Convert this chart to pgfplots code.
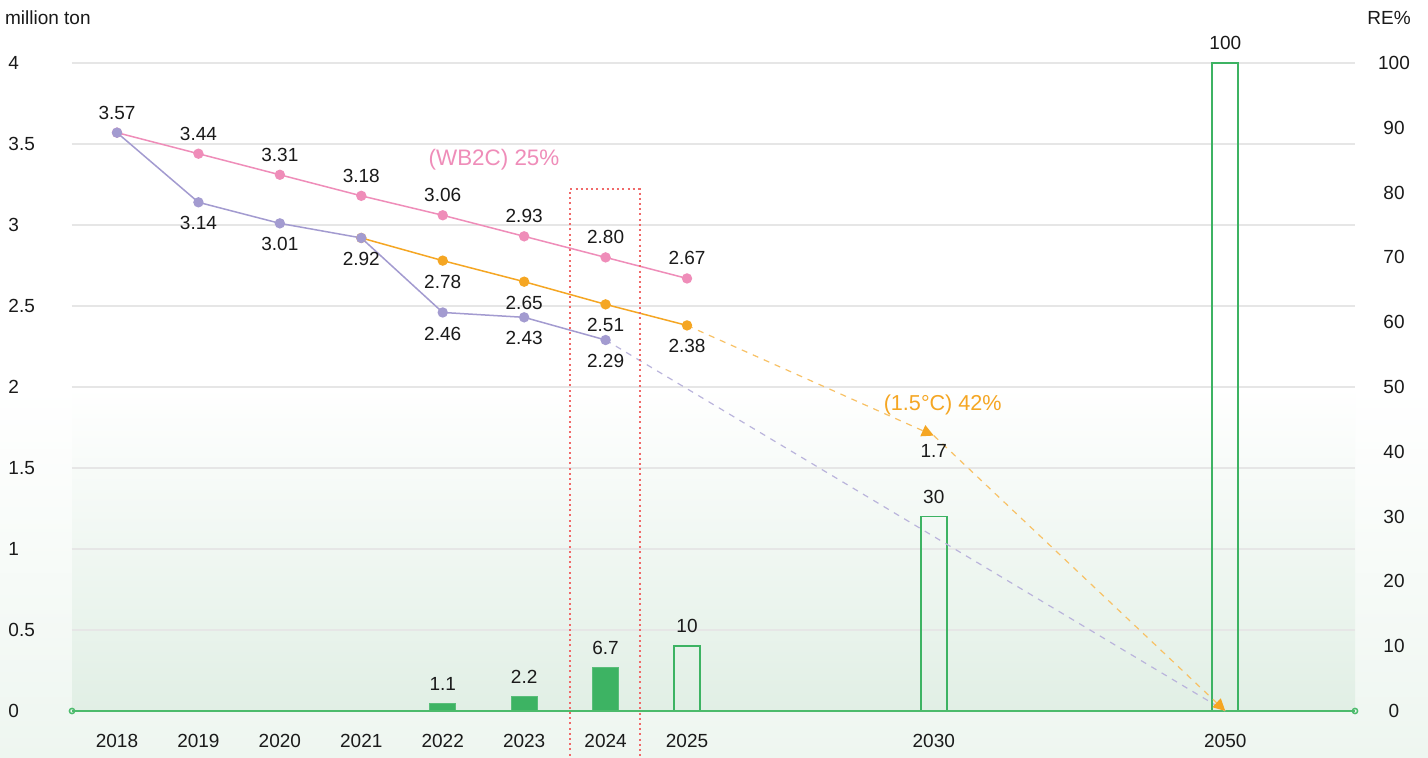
\documentclass[border=0pt]{standalone}
\usepackage{pgfplots}
\pgfplotsset{compat=1.18}
\usepackage{pgfplotstable}
\usepackage{fontspec}
\setmainfont{Liberation Sans}
\usetikzlibrary{arrows.meta}
\definecolor{cpink}{HTML}{EF8DB9}
\definecolor{cpurple}{HTML}{A39BD0}
\definecolor{corange}{HTML}{F5A623}
\definecolor{cgreen}{HTML}{3DB363}
\definecolor{cgreenline}{HTML}{4CBB6C}
\definecolor{cgrid}{HTML}{E6E6E6}
\definecolor{cred}{HTML}{F06A6A}
\definecolor{bgA}{HTML}{E1EFE5}
\definecolor{bgB}{HTML}{EEF6F0}
\definecolor{ctext}{HTML}{1A1A1A}

\pgfplotstableread{
x y lab
0 3.57 {}
1 3.44 3.44
2 3.31 3.31
3 3.18 3.18
4 3.06 3.06
5 2.93 2.93
6 2.80 2.80
7 2.67 2.67
}\pinktab
\pgfplotstableread{
x y lab
0 3.57 {}
1 3.14 3.14
2 3.01 3.01
3 2.92 2.92
4 2.46 2.46
5 2.43 2.43
6 2.29 2.29
}\purpletab
\pgfplotstableread{
x y lab
3 2.92 {}
4 2.78 2.78
5 2.65 2.65
6 2.51 2.51
7 2.38 2.38
}\orangetab
\pgfplotstableread{
x y lab
4 1.1 1.1
5 2.2 2.2
6 6.7 6.7
}\barfilled
\pgfplotstableread{
x y lab
7 10 10
10.03 30 30
13.61 100 100
}\barempty

\pgfplotsset{
  base/.style={
    at={(0pt,0pt)}, anchor=south west, scale only axis,
    width=641.5pt, height=324pt,
    xmin=-0.5526, xmax=15.203,
    axis line style={draw=none}, major tick length=0pt,
    /pgf/number format/assume math mode=true,
    clip=false,
  },
}

\begin{document}
\begin{tikzpicture}[font=\fontsize{9.5}{11}\selectfont]
\useasboundingbox (-36pt,-23.5pt) rectangle (678pt,355.5pt);
\fill[white] (-36pt,-23.5pt) rectangle (678pt,355.5pt);
\fill[top color=white, bottom color=bgB] (-36pt,-23.5pt) rectangle (678pt,162pt);
\fill[top color=white, bottom color=bgA] (0pt,0pt) rectangle (641.5pt,162pt);

\node[anchor=west, text=ctext] at (-37pt,346.5pt) {million ton};
\node[anchor=center, text=ctext] at (658.5pt,346.5pt) {RE\%};

% grid and left/bottom tick labels
\begin{axis}[base, ymin=0, ymax=4,
  ytick={0,0.5,1,1.5,2,2.5,3,3.5,4},
  ymajorgrids, grid style={cgrid, line width=0.75pt},
  yticklabel style={anchor=west, xshift=-35.3pt, text=ctext},
  xtick={0,1,2,3,4,5,6,7,10.03,13.61},
  xticklabels={2018,2019,2020,2021,2022,2023,2024,2025,2030,2050},
  xticklabel style={anchor=center, yshift=-15pt, text=ctext},
]
\addplot[draw=none] coordinates {(0,0)};
\end{axis}

% bars, right axis
\begin{axis}[base, ymin=0, ymax=100,
  xtick=\empty, ytick={0,10,20,30,40,50,60,70,80,90,100},
  yticklabel pos=right,
  yticklabel style={anchor=center, xshift=19.5pt, text=ctext},
]
\addplot[ybar, bar width=13pt, bar shift=0pt, fill=cgreen, draw=cgreen!85,
  point meta=explicit symbolic, nodes near coords,
  nodes near coords style={anchor=center, yshift=10pt, text=ctext}]
  table[x=x, y=y, meta=lab] {\barfilled};
\addplot[ybar, bar width=13pt, bar shift=0pt, fill=none,
  draw=cgreen, line width=0.9pt,
  point meta=explicit symbolic, nodes near coords,
  nodes near coords style={anchor=center, yshift=10pt, text=ctext}]
  table[x=x, y=y, meta=lab] {\barempty};
\addplot[cgreenline, line width=0.75pt, mark=o, mark size=1.3pt,
  mark options={fill=white, draw=cgreenline}] coordinates {(-0.5526,0) (15.203,0)};
\end{axis}

% lines, left scale
\begin{axis}[base, ymin=0, ymax=4, xtick=\empty, ytick=\empty,
  lblup/.style={point meta=explicit symbolic, nodes near coords,
    nodes near coords style={anchor=center, yshift=10pt, text=ctext}},
  lbldown/.style={point meta=explicit symbolic, nodes near coords,
    nodes near coords style={anchor=center, yshift=-10.5pt, text=ctext}},
]
\addplot[cpurple!75, line width=0.6pt, dash pattern=on 3pt off 3pt]
  coordinates {(6,2.29) (13.61,0)};
\addplot[corange!70, line width=0.6pt, dash pattern=on 3pt off 3pt,
  -{Triangle[length=6pt, width=6pt, color=corange]}]
  coordinates {(7,2.38) (10.03,1.7)};
\addplot[corange!70, line width=0.6pt, dash pattern=on 3pt off 3pt,
  -{Triangle[length=6pt, width=6pt, color=corange]}]
  coordinates {(10.03,1.7) (13.61,0)};
\addplot[draw=none, point meta=explicit symbolic, nodes near coords,
    nodes near coords style={anchor=center, yshift=-7.5pt, text=ctext}]
  table[x=x, y=y, meta=lab] {
x y lab
10.03 1.7 1.7
};

\addplot[cpink, line width=0.75pt, mark=*, mark size=2.2pt,
  mark options={fill=cpink, draw=cpink}, lblup]
  table[x=x, y=y, meta=lab] {\pinktab};
\addplot[corange, line width=0.75pt, mark=*, mark size=2.2pt,
  mark options={fill=corange, draw=corange}, lbldown]
  table[x=x, y=y, meta=lab] {\orangetab};
\addplot[cpurple, line width=0.75pt, mark=*, mark size=2.2pt,
  mark options={fill=cpurple, draw=cpurple}, lbldown]
  table[x=x, y=y, meta=lab] {\purpletab};
\addplot[draw=none, lblup] table[x=x, y=y, meta=lab] {
x y lab
0 3.57 3.57
};

\draw[cred, line width=1pt, dash pattern=on 1pt off 1.6pt]
  (axis cs:5.56,-0.5) -- (axis cs:5.56,3.22) -- (axis cs:6.42,3.22) -- (axis cs:6.42,-0.5);

\node[text=cpink, anchor=center, font=\fontsize{11.2}{13}\selectfont] at (axis cs:4.63,3.40) {(WB2C) 25\%};
\node[text=corange, anchor=center, font=\fontsize{10.8}{13}\selectfont] at (axis cs:10.14,1.89) {(1.5°C) 42\%};
\end{axis}
\end{tikzpicture}
\end{document}
